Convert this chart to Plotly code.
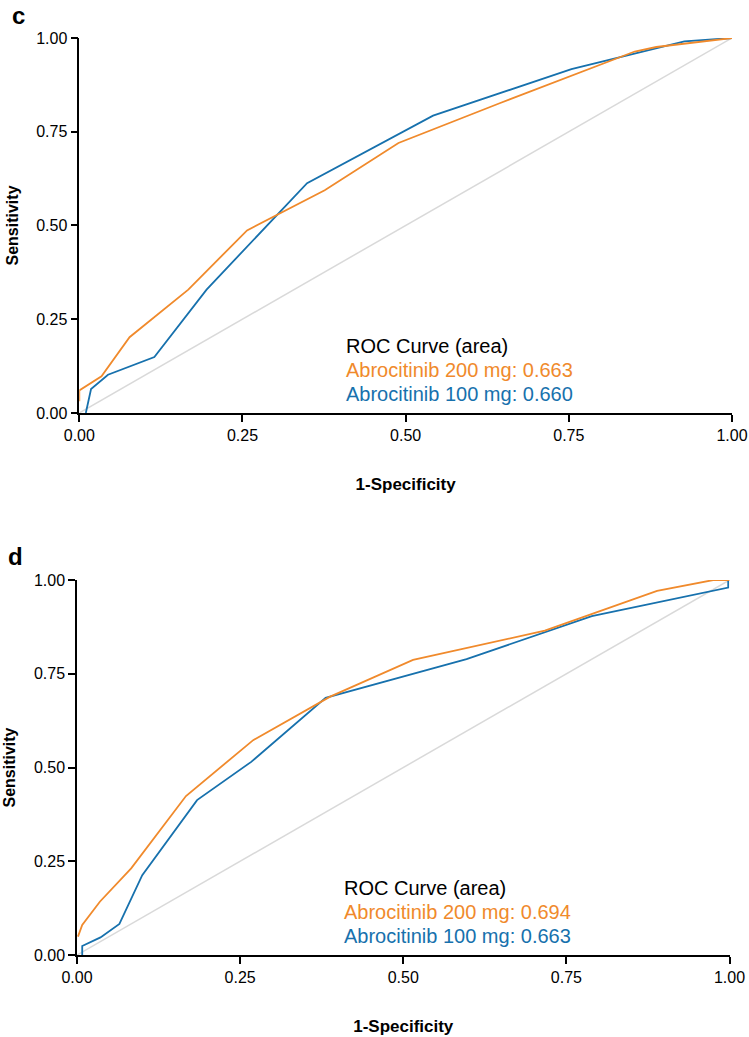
import plotly.graph_objects as go

# ---- Data ----
# Panel c
c_200_fpr = [0.0, 0.0, 0.034, 0.077, 0.167, 0.257, 0.376, 0.489, 0.644, 0.851, 0.884, 0.95, 1.0]
c_200_tpr = [0.031, 0.06, 0.098, 0.202, 0.329, 0.487, 0.594, 0.72, 0.826, 0.964, 0.976, 0.99, 1.0]
c_100_fpr = [0.010, 0.018, 0.044, 0.115, 0.195, 0.349, 0.542, 0.754, 0.927, 1.0]
c_100_tpr = [0.0, 0.064, 0.102, 0.149, 0.329, 0.613, 0.793, 0.917, 0.991, 1.0]
c_auc_200 = "0.663"
c_auc_100 = "0.660"

# Panel d
d_200_fpr = [0.0015, 0.008, 0.035, 0.083, 0.167, 0.27, 0.388, 0.515, 0.717, 0.889, 0.975, 1.0]
d_200_tpr = [0.049, 0.08, 0.142, 0.231, 0.424, 0.573, 0.689, 0.787, 0.865, 0.971, 1.0, 1.0]
d_100_fpr = [0.008, 0.008, 0.036, 0.065, 0.1, 0.184, 0.267, 0.381, 0.597, 0.789, 0.998, 0.998]
d_100_tpr = [0.0, 0.024, 0.047, 0.083, 0.213, 0.413, 0.515, 0.686, 0.789, 0.904, 0.98, 1.0]
d_auc_200 = "0.694"
d_auc_100 = "0.663"

ref_line = [0.0, 1.0]
tick_vals = [0.0, 0.25, 0.5, 0.75, 1.0]
tick_text = ["0.00", "0.25", "0.50", "0.75", "1.00"]
panel_labels = ["c", "d"]

ORANGE = "#f08a2c"
BLUE = "#1771ad"
GREY = "#d9d9d9"
FONT = "Arial, Liberation Sans, sans-serif"

fig = go.Figure()

panels = [
    (c_200_fpr, c_200_tpr, c_100_fpr, c_100_tpr, c_auc_200, c_auc_100, "x", "y"),
    (d_200_fpr, d_200_tpr, d_100_fpr, d_100_tpr, d_auc_200, d_auc_100, "x2", "y2"),
]

for f2, t2, f1, t1, a2, a1, xa, ya in panels:
    fig.add_trace(go.Scatter(x=ref_line, y=ref_line, mode="lines",
                             line=dict(color=GREY, width=1.5), xaxis=xa, yaxis=ya,
                             showlegend=False, hoverinfo="skip"))
    fig.add_trace(go.Scatter(x=f1, y=t1, mode="lines",
                             line=dict(color=BLUE, width=1.8), xaxis=xa, yaxis=ya,
                             showlegend=False, name="Abrocitinib 100 mg"))
    fig.add_trace(go.Scatter(x=f2, y=t2, mode="lines",
                             line=dict(color=ORANGE, width=1.8), xaxis=xa, yaxis=ya,
                             showlegend=False, name="Abrocitinib 200 mg"))
    texts = [("ROC Curve (area)", "#000000", 0.178),
             (f"Abrocitinib 200 mg: {a2}", ORANGE, 0.115),
             (f"Abrocitinib 100 mg: {a1}", BLUE, 0.051)]
    for txt, col, yy in texts:
        fig.add_annotation(x=0.406, y=yy, xref=xa, yref=ya, text=txt, showarrow=False,
                           xanchor="left", yanchor="middle",
                           font=dict(family=FONT, size=20, color=col))

axis_common = dict(range=[0, 1], showline=True, linecolor="black", linewidth=1.5,
                   ticks="outside", ticklen=7, tickwidth=1.5, tickcolor="black",
                   tickvals=tick_vals, ticktext=tick_text, showgrid=False, zeroline=False,
                   tickfont=dict(family=FONT, size=16, color="black"), fixedrange=True,
                   automargin=False)

xtitle_font = dict(family=FONT, size=17, color="black")
ytitle_font = dict(family=FONT, size=16, color="black")

fig.update_layout(
    width=749, height=1037,
    margin=dict(l=77, r=17, t=38, b=82),
    plot_bgcolor="white", paper_bgcolor="white",
    xaxis=dict(axis_common, domain=[0.0035, 1.0], anchor="y",
               title=dict(text="<b>1-Specificity</b>", font=xtitle_font, standoff=35)),
    yaxis=dict(axis_common, domain=[0.5911, 1.0], anchor="x",
               title=dict(text="<b>Sensitivity</b>", font=ytitle_font, standoff=14)),
    xaxis2=dict(axis_common, domain=[0.0, 0.9962], anchor="y2",
                title=dict(text="<b>1-Specificity</b>", font=xtitle_font, standoff=35)),
    yaxis2=dict(axis_common, domain=[0.0, 0.4089], anchor="x2",
                title=dict(text="<b>Sensitivity</b>", font=ytitle_font, standoff=14)),
)

fig.add_annotation(x=-0.103, y=1.0243, xref="paper", yref="paper", text="<b>c</b>",
                   showarrow=False, xanchor="left", yanchor="middle",
                   font=dict(family=FONT, size=24, color="black"))
fig.add_annotation(x=-0.109, y=0.4343, xref="paper", yref="paper", text="<b>d</b>",
                   showarrow=False, xanchor="left", yanchor="middle",
                   font=dict(family=FONT, size=24, color="black"))

fig.write_html("out.html", config={"displayModeBar": False},
               post_script="document.body.style.margin='0';document.body.style.overflow='hidden';")
